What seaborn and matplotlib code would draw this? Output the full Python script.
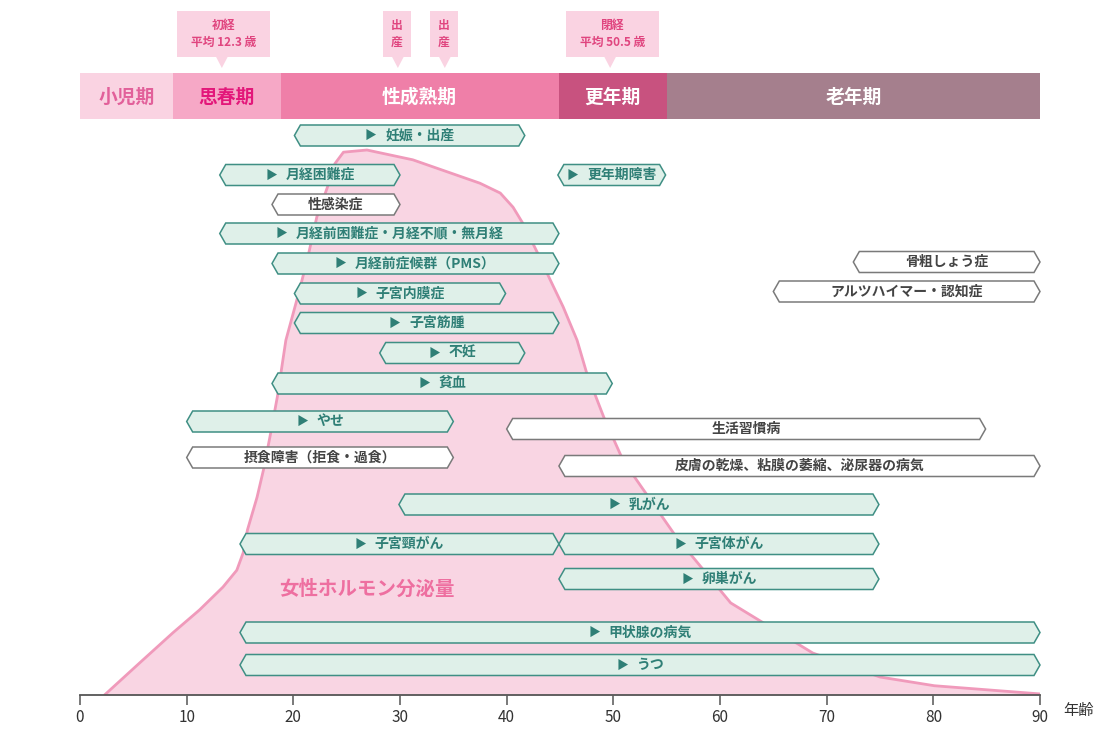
import matplotlib
matplotlib.use("Agg")
import matplotlib.pyplot as plt
from matplotlib.patches import Polygon, Rectangle
from matplotlib.offsetbox import TextArea, HPacker, AnnotationBbox
import numpy as np
import pandas as pd
import seaborn as sns

# life stages (age ranges)
stage_names = ["小児期", "思春期", "性成熟期", "更年期", "老年期"]
stage_start = [0, 8.7, 18.8, 44.9, 55.0]
stage_end = [8.7, 18.8, 44.9, 55.0, 90]

# callouts above the stage bar
callout_text = ["初経\n平均 12.3 歳", "出\n産", "出\n産", "閉経\n平均 50.5 歳"]
callout_age = [13.3, 29.8, 34.2, 49.7]

# female hormone secretion (relative, peak = 100)
hormone_age = [2.3, 5.6, 8.7, 11.2, 13.4, 14.7, 15.3, 15.7, 16.6, 17.2, 17.8, 18.5,
               19.3, 20.4, 21.3, 22.2, 23.2, 23.9, 24.7, 26.9, 31.2, 37.5, 39.4, 40.6,
               41.5, 42.9, 44.1, 45.3, 46.6, 47.5, 49.1, 50.9, 52.2, 55.9, 61.0, 68.7,
               75.0, 80.1, 90.0]
hormone_level = [0, 5.9, 11.4, 15.6, 19.8, 22.9, 26.1, 30.3, 36.3, 41.3, 47.3, 54.7,
                 65.1, 73.0, 79.8, 87.7, 93.2, 97.5, 99.6, 100, 98.2, 93.9, 92.1, 89.5,
                 86.6, 81.1, 76.1, 71.2, 65.1, 59.1, 51.0, 43.1, 39.4, 29.0, 16.9, 7.7,
                 3.3, 1.7, 0.2]

# diseases by age range; female=True -> female specific (teal, with arrow)
disease_names = ["妊娠・出産", "月経困難症", "更年期障害", "性感染症",
                 "月経前困難症・月経不順・無月経", "月経前症候群（PMS）", "骨粗しょう症",
                 "子宮内膜症", "アルツハイマー・認知症", "子宮筋腫", "不妊", "貧血",
                 "やせ", "生活習慣病", "摂食障害（拒食・過食）",
                 "皮膚の乾燥、粘膜の萎縮、泌尿器の病気", "乳がん", "子宮頸がん",
                 "子宮体がん", "卵巣がん", "甲状腺の病気", "うつ"]
disease_start = [20.1, 13.1, 44.8, 18.0, 13.1, 18.0, 72.5, 20.1, 65.0, 20.1, 28.1, 18.0,
                 10.0, 40.0, 10.0, 44.9, 29.9, 15.0, 44.9, 44.9, 15.0, 15.0]
disease_end = [41.7, 30.0, 54.9, 30.0, 44.9, 44.9, 90, 39.9, 90, 44.9, 41.7, 49.9,
               35.0, 84.9, 35.0, 90, 74.9, 44.9, 74.9, 74.9, 90, 90]
disease_female = [True, True, True, False, True, True, False, True, False, True, True, True,
                  True, False, False, False, True, True, True, True, True, True]

# layout: vertical centre of each disease bar (pixel rows from the top)
row_y = [135.5, 175, 175, 204.5, 233.5, 263.5, 262, 293.5, 291.5, 323, 353, 383.5,
         421.5, 429, 457.5, 466, 504.5, 544, 544, 579, 632.5, 665]

BASE = 695.0      # pixel row of the age axis
SCALE = 5.45      # pixels per hormone unit

sns.set_theme(style="white")
plt.rcParams["font.family"] = ["Noto Sans CJK JP", "DejaVu Sans"]

fig = plt.figure(figsize=(11.15, 7.43), dpi=100)
ax = fig.add_axes([80 / 1115, 48 / 743, 960 / 1115, 695 / 743])
ax.set_xlim(0, 90)
ax.set_ylim(BASE, 0)

# hormone curve
df = pd.DataFrame({"age": hormone_age, "level": hormone_level})
df["y"] = BASE - df["level"] * SCALE
ax.fill_between(df["age"], df["y"], BASE, color="#f9d5e3", lw=0, zorder=1)
sns.lineplot(data=df, x="age", y="y", sort=False, color="#f09abb", lw=2.0, ax=ax, zorder=2)
ax.text(26.9, 589, "女性ホルモン分泌量", ha="center", va="center", fontsize=14,
        fontweight="bold", color="#ee6fa0", zorder=2)

# stage bar
stage_bg = ["#fad3e2", "#f6a8c6", "#ef7fa8", "#c8527f", "#a57f8d"]
stage_fg = ["#e2609a", "#e3177a", "white", "white", "white"]
for name, s, e, bg, fg in zip(stage_names, stage_start, stage_end, stage_bg, stage_fg):
    ax.add_patch(Rectangle((s, 73), e - s, 46, fc=bg, ec="none", zorder=3, clip_on=False))
    ax.text((s + e) / 2, 97, name, ha="center", va="center", fontsize=13.5,
            fontweight="bold", color=fg, zorder=4)

# callouts
px = 90 / 960
for txt, a in zip(callout_text, callout_age):
    narrow = len(txt) == 3
    w = 28 * px if narrow else 93 * px
    cx = a - 1 * px if narrow else a + 2 * px
    ax.add_patch(Rectangle((cx - w / 2, 11), w, 46, fc="#fad3e2", ec="none", zorder=3))
    ax.add_patch(Polygon([(a - 6 * px, 56.5), (a + 6 * px, 56.5), (a, 68)], closed=True,
                         fc="#fad3e2", ec="none", zorder=3))
    ax.text(cx, 34, txt, ha="center", va="center", fontsize=8.5, fontweight="bold",
            color="#e0457f", linespacing=1.35, zorder=4)

# disease bars
d = 6 * px
h = 10.5
for name, s, e, fem, yc in zip(disease_names, disease_start, disease_end, disease_female, row_y):
    fc, ec, tc = ("#dff0e9", "#3f8f84", "#2f7f76") if fem else ("white", "#7a7a7a", "#444444")
    pts = [(s, yc), (s + d, yc - h), (e - d, yc - h), (e, yc), (e - d, yc + h), (s + d, yc + h)]
    ax.add_patch(Polygon(pts, closed=True, fc=fc, ec=ec, lw=1.1, zorder=5, clip_on=False))
    word = TextArea(name, textprops=dict(fontsize=10, fontweight="bold", color=tc))
    if fem:
        tri = TextArea("▶", textprops=dict(fontsize=8.5, color=tc))
        box = HPacker(children=[tri, word], align="center", pad=0, sep=6)
    else:
        box = word
    ab = AnnotationBbox(box, ((s + e) / 2, yc), frameon=False, box_alignment=(0.5, 0.5),
                        pad=0, zorder=6)
    ax.add_artist(ab)

# axis
for side in ["left", "right", "top"]:
    ax.spines[side].set_visible(False)
ax.spines["bottom"].set_color("#555555")
ax.spines["bottom"].set_linewidth(1.3)
ax.set_xticks(range(0, 91, 10))
ax.set_yticks([])
ax.tick_params(axis="x", bottom=True, length=7, width=1.1, color="#555555",
               labelsize=11, labelcolor="#333333", pad=3)
ax.set_xlabel("")
ax.set_ylabel("")
ax.text(93.6, 711, "年齢", ha="center", va="center", fontsize=11, color="#333333",
        clip_on=False)

fig.savefig("out.png", dpi=100)
